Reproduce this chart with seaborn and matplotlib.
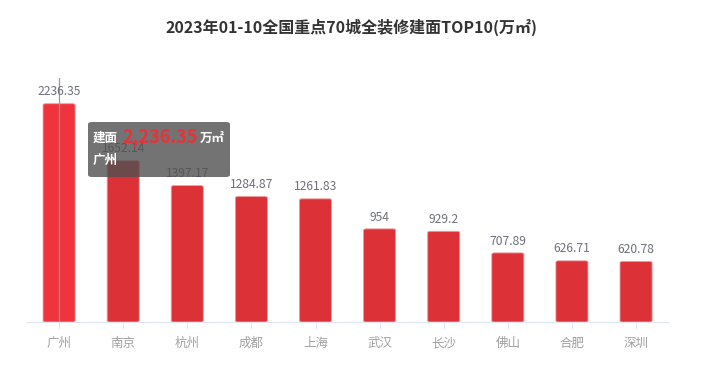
import matplotlib
matplotlib.use("Agg")
import matplotlib.pyplot as plt
import seaborn as sns
import pandas as pd
from matplotlib.patches import FancyBboxPatch

sns.set_style("white")
plt.rcParams['font.family'] = ['Noto Sans CJK SC', 'DejaVu Sans']

cities = ['广州', '南京', '杭州', '成都', '上海', '武汉', '长沙', '佛山', '合肥', '深圳']
area = [2236.35, 1652.14, 1397.17, 1284.87, 1261.83, 954, 929.2, 707.89, 626.71, 620.78]
labels = ['2236.35', '1652.14', '1397.17', '1284.87', '1261.83', '954', '929.2', '707.89', '626.71', '620.78']

df = pd.DataFrame({'city': cities, 'area': area})
colors = ['#EF343D'] + ['#DC3237'] * 9

fig = plt.figure(figsize=(7.04, 3.67), dpi=100)
ax = fig.add_axes([0.0384, 0.1226, 0.9106, 0.6649])
sns.barplot(data=df, x='city', y='area', hue='city', palette=colors, legend=False,
            width=0.5, ax=ax, saturation=1)
ax.set_ylim(0, 2500)

# rounded bar tops
for p, c in zip(list(ax.patches), colors):
    x, w, h = p.get_x(), p.get_width(), p.get_height()
    p.remove()
    rb = FancyBboxPatch((x, 0), w, h, boxstyle="round,pad=0,rounding_size=0.04",
                        mutation_aspect=2500 / 10 * 1.3, facecolor=c,
                        edgecolor='#F09A9D', linewidth=0.6)
    ax.add_patch(rb)

for i, (v, t) in enumerate(zip(area, labels)):
    ax.text(i, v + 55, t, ha='center', va='bottom', fontsize=8.7, color='#6E7079')

ax.set_xlabel('')
ax.set_ylabel('')
ax.set_yticks([])
for s in ['top', 'right', 'left']:
    ax.spines[s].set_visible(False)
ax.spines['bottom'].set_color('#E0E6F1')
ax.tick_params(axis='x', colors='#E0E6F1', length=5, width=0.8, labelcolor='#A0A0A0',
               labelsize=9, pad=6, bottom=True)

# hover pointer line
ax.axvline(0, color='#999999', linewidth=0.9, ymin=0, ymax=1)

fig.text(0.5, 1 - 27 / 367, '2023年01-10全国重点70城全装修建面TOP10(万㎡)', fontsize=11.5,
         fontweight='bold', color='#333333', ha='center', va='center')

# tooltip
tip = FancyBboxPatch((88 / 704, 1 - 177 / 367), 142 / 704, 55 / 367,
                     boxstyle="round,pad=0,rounding_size=0.006",
                     transform=fig.transFigure, facecolor='#505050', alpha=0.8,
                     edgecolor='none', zorder=5)
fig.patches.append(tip)
fig.text(93 / 704, 1 - 138 / 367, '建面', color='white', fontsize=9, fontweight='bold',
         va='center', zorder=6)
fig.text(122 / 704, 1 - 137 / 367, '2,236.35', color='#E8323A', fontsize=13, fontweight='bold',
         va='center', zorder=6)
fig.text(200 / 704, 1 - 138 / 367, '万㎡', color='white', fontsize=9, fontweight='bold',
         va='center', zorder=6)
fig.text(93 / 704, 1 - 160 / 367, '广州', color='white', fontsize=9, fontweight='bold',
         va='center', zorder=6)

fig.savefig('out.png', dpi=100)
